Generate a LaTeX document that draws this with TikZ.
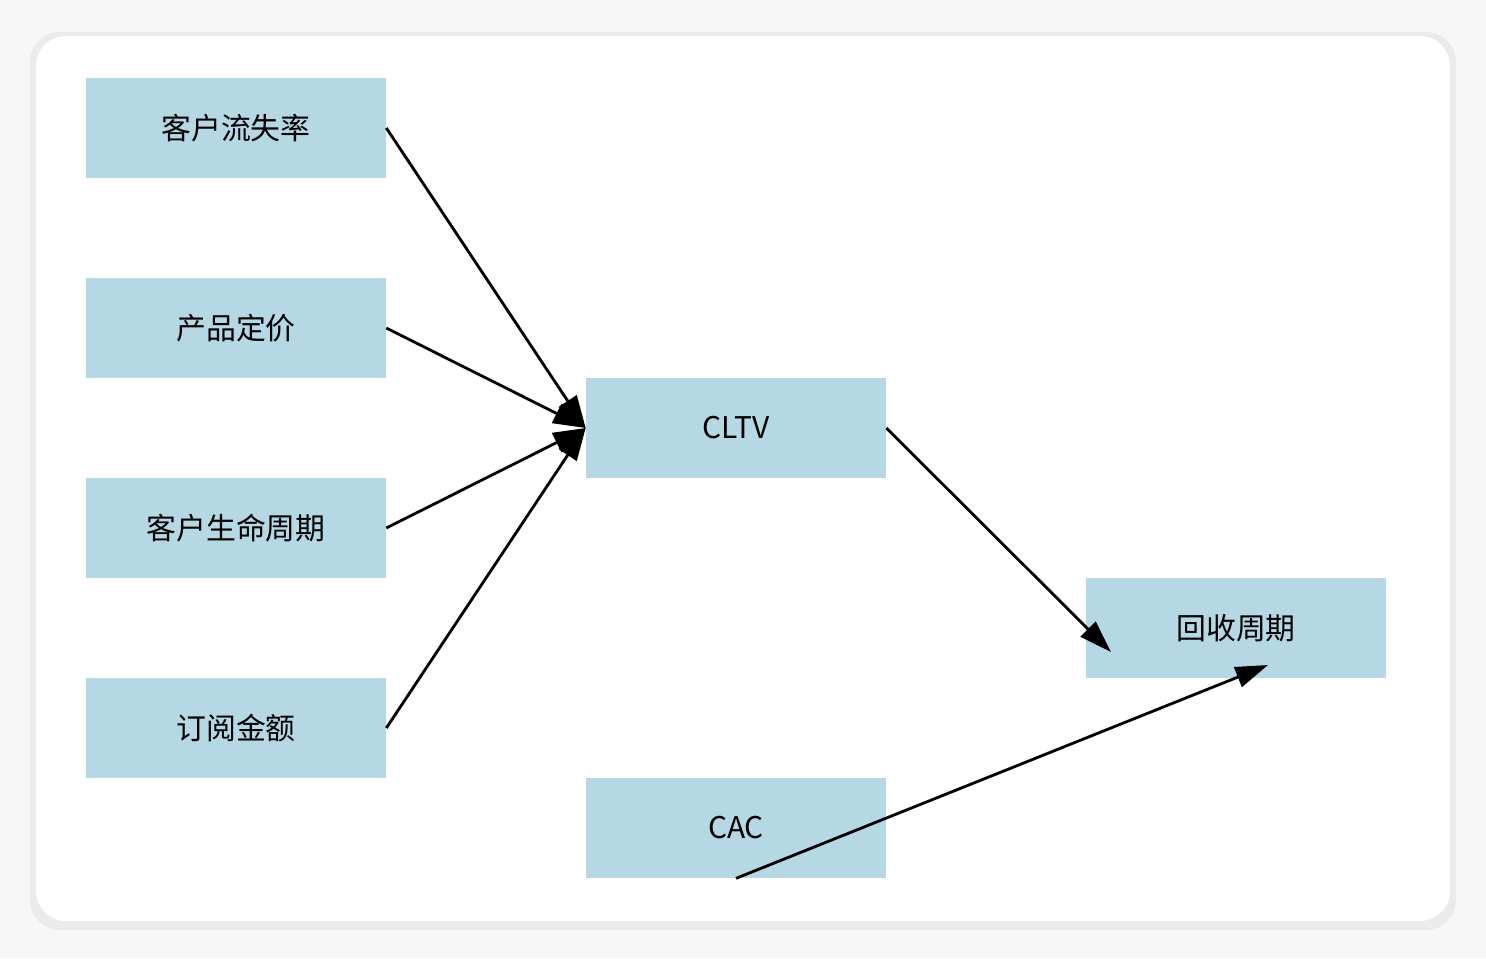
\documentclass[tikz,border=0pt]{standalone}
\usepackage{fontspec}
\setmainfont{Noto Sans CJK SC}
\usetikzlibrary{arrows.meta}

\definecolor{boxblue}{HTML}{B5D8E4}
\definecolor{bgpage}{HTML}{F7F7F7}
\definecolor{bgrim}{HTML}{EBEBEB}

\tikzset{
  box/.style = {fill = boxblue, minimum width = 6cm, minimum height = 2cm,
                inner sep = 0pt, font = \fontsize{17}{20}\selectfont},
  link/.style = {line width = 1.6pt, -{Triangle[length = 0.65cm, width = 0.42cm]}},
}

\begin{document}
\begin{tikzpicture}[x = 0.02cm, y = -0.02cm]
			% card
			\useasboundingbox (0, 0) rectangle (1486, 958);
			\fill[bgpage] (0, 0) rectangle (1486, 958);
			\fill[bgrim, rounded corners = 0.6cm] (30, 32) rectangle (1456, 930);
			\fill[white, rounded corners = 0.6cm] (36, 36) rectangle (1450, 921);
			% boxes
			\node[box] (churn) at (236, 128) {客户流失率};
			\node[box] (price) at (236, 328) {产品定价};
			\node[box] (life) at (236, 528) {客户生命周期};
			\node[box] (sub) at (236, 728) {订阅金额};
			\node[box] (cltv) at (736, 428) {CLTV};
			\node[box] (cac) at (736, 828) {CAC};
			\node[box] (payback) at (1236, 628) {回收周期};
			% free ends
			\coordinate (pbin) at (1111, 652);
			\coordinate (pbcac) at (1268, 665);
			% connectors
			\draw[link] (churn.east) -- (cltv.west);
			\draw[link] (price.east) -- (cltv.west);
			\draw[link] (life.east) -- (cltv.west);
			\draw[link] (sub.east) -- (cltv.west);
			\draw[link] (cltv.east) -- (pbin);
			\draw[link] (cac.south) -- (pbcac);
\end{tikzpicture}
\end{document}
